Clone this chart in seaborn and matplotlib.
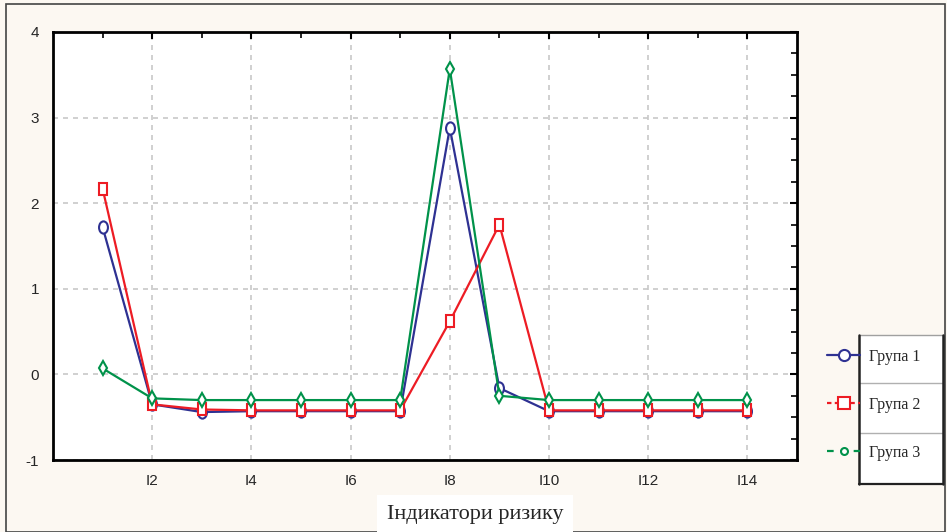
import numpy as np
import pandas as pd
import matplotlib
matplotlib.use("Agg")
import matplotlib.pyplot as plt
import seaborn as sns
from matplotlib.lines import Line2D
from matplotlib.patches import Rectangle
from matplotlib.markers import MarkerStyle
from matplotlib.transforms import Affine2D

# data
positions = list(range(1, 15))
group_names = ["Група 1", "Група 2", "Група 3"]
group1 = [1.72, -0.35, -0.44, -0.43, -0.43, -0.43, -0.43, 2.88, -0.16, -0.43, -0.43, -0.43, -0.43, -0.43]
group2 = [2.17, -0.35, -0.41, -0.42, -0.42, -0.42, -0.42, 0.62, 1.75, -0.42, -0.42, -0.42, -0.42, -0.42]
group3 = [0.07, -0.28, -0.30, -0.30, -0.30, -0.30, -0.30, 3.57, -0.25, -0.30, -0.30, -0.30, -0.30, -0.30]
xtick_pos = [2, 4, 6, 8, 10, 12, 14]
xtick_labels = ["I2", "I4", "I6", "I8", "I10", "I12", "I14"]
colors = ["#2e3192", "#ed1c24", "#00924a"]

df = pd.concat([
    pd.DataFrame({"pos": positions, "value": vals, "group": name})
    for name, vals in zip(group_names, [group1, group2, group3])
])

sns.set_style("white")
plt.rcParams["font.family"] = ["Liberation Sans", "DejaVu Sans"]
plt.rcParams["axes.unicode_minus"] = False

bg = "#fcf8f2"
fig = plt.figure(figsize=(9.47, 5.32), dpi=100, facecolor=bg)
ax = fig.add_axes([53 / 947, 72 / 532, 744 / 947, 428 / 532])
ax.set_facecolor("white")

sns.lineplot(data=df, x="pos", y="value", hue="group", style="group",
             palette=colors, markers=["o", "s", "d"], dashes=False,
             linewidth=1.6, markersize=8, legend=False, ax=ax)

shapes = [MarkerStyle("o", transform=Affine2D().scale(0.8, 1.1)),
          MarkerStyle("s", transform=Affine2D().scale(0.65, 1.15)),
          MarkerStyle("d", transform=Affine2D().scale(0.9, 0.9))]
for line, shp in zip(ax.lines, shapes):
    line.set_marker(shp)
    line.set_markerfacecolor("white")
    line.set_markeredgecolor(line.get_color())
    line.set_markeredgewidth(1.5)

ax.set_xlim(0, 15)
ax.set_ylim(-1, 4)
ax.set_xticks(xtick_pos)
ax.set_xticklabels(xtick_labels)
ax.set_xticks(range(1, 15, 2), minor=True)
ax.set_yticks([-1, 0, 1, 2, 3, 4])
ax.set_yticks(np.arange(-1, 4.01, 0.25), minor=True)
ax.tick_params(which="both", direction="in", top=True, right=True,
               labelsize=11, pad=10, color="black")
ax.tick_params(which="major", length=5, width=1.5)
ax.tick_params(which="minor", length=4, width=1.2)
ax.grid(True, which="major", color="#c8c8c8", linestyle=(0, (3, 3)), linewidth=1.2)
for sp in ax.spines.values():
    sp.set_linewidth(2)
    sp.set_color("black")
ax.set_xlabel("")
ax.set_ylabel("")

fig.text(475 / 947, 1 - 514 / 532, "Індикатори ризику", ha="center", va="center",
         fontsize=16, family=["Liberation Serif", "DejaVu Serif"],
         bbox=dict(facecolor="white", edgecolor="none", pad=7))

# legend
handles = [
    Line2D([], [], color=colors[0], linestyle="-", linewidth=1.6, marker="o",
           markersize=8, mfc="white", mec=colors[0], mew=1.5),
    Line2D([], [], color=colors[1], linestyle=(0, (2, 1.5)), linewidth=1.6, marker="s",
           markersize=8, mfc="white", mec=colors[1], mew=1.5),
    Line2D([], [], color=colors[2], linestyle=(0, (3, 3)), linewidth=1.6, marker="o",
           markersize=5, mfc="white", mec=colors[2], mew=1.5),
]
fig.add_artist(Rectangle((859 / 947, 1 - 484 / 532), 84 / 947, 149 / 532,
                         transform=fig.transFigure, facecolor="white",
                         edgecolor="none", zorder=0))
for yy in [383, 433]:
    fig.add_artist(Line2D([859 / 947, 943 / 947], [1 - yy / 532] * 2,
                          transform=fig.transFigure, color="#b0b0b0", linewidth=1))
fig.add_artist(Line2D([859 / 947, 943 / 947], [1 - 335 / 532] * 2,
                      transform=fig.transFigure, color="#a0a0a0", linewidth=1))
fig.add_artist(Line2D([859 / 947, 943 / 947], [1 - 484 / 532] * 2,
                      transform=fig.transFigure, color="#222222", linewidth=1.6))
for xx in [859, 943]:
    fig.add_artist(Line2D([xx / 947] * 2, [1 - 335 / 532, 1 - 484 / 532],
                          transform=fig.transFigure, color="#222222", linewidth=1.8))
leg = fig.legend(handles, group_names, loc="upper left",
                 bbox_to_anchor=(822 / 947, 1 - 344 / 532), frameon=False,
                 prop={"family": ["Liberation Serif", "DejaVu Serif"], "size": 11.5},
                 handlelength=2.1, handletextpad=0.55, labelspacing=2.0,
                 borderaxespad=0, borderpad=0.3)

# outer frame
fig.add_artist(Rectangle((6 / 947, 0), 939 / 947, 1 - 4 / 532, transform=fig.transFigure,
                         facecolor="none", edgecolor="#444444", linewidth=1.2))

fig.savefig("out.png", dpi=100, facecolor=bg)
